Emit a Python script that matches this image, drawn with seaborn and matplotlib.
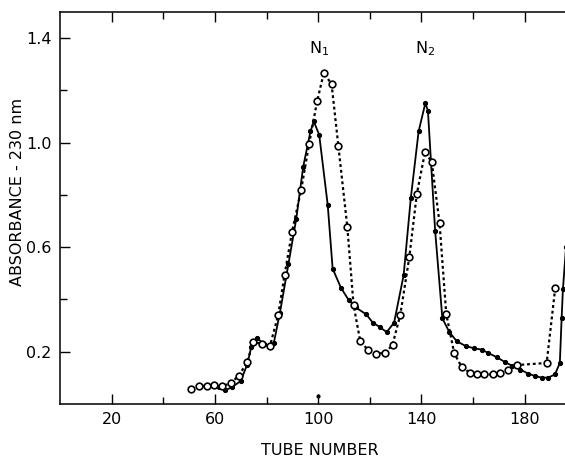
import numpy as np
import pandas as pd
import matplotlib
matplotlib.use("Agg")
import matplotlib.pyplot as plt
import seaborn as sns

# open circles, dotted line
tube_open = [50.6, 53.8, 56.8, 59.6, 62.9, 66.1, 69.3, 72.5, 74.8, 78.3, 81.3, 84.5,
             87.0, 89.9, 93.4, 96.5, 99.6, 102.2, 105.2, 107.8, 111.3, 113.7, 116.3,
             119.2, 122.4, 126.0, 128.8, 131.8, 135.3, 138.2, 141.4, 144.0, 147.0,
             149.6, 152.7, 155.6, 158.8, 161.4, 164.4, 167.6, 170.4, 173.6, 176.9,
             188.5, 191.8]
abs_open = [0.059, 0.069, 0.069, 0.071, 0.069, 0.079, 0.109, 0.160, 0.237, 0.230, 0.221, 0.340,
            0.495, 0.660, 0.819, 0.996, 1.159, 1.268, 1.223, 0.989, 0.676, 0.379, 0.240,
            0.208, 0.193, 0.195, 0.227, 0.341, 0.562, 0.803, 0.965, 0.925, 0.693,
            0.345, 0.194, 0.141, 0.120, 0.113, 0.113, 0.113, 0.118, 0.132, 0.149,
            0.157, 0.443]

# filled dots, solid line
tube_solid = [61.6, 63.9, 66.7, 70.0, 72.5, 74.1, 76.4, 78.9, 81.5, 82.8, 85.2,
              88.5, 91.5, 94.2, 97.0, 98.3, 100.4, 103.7, 105.6, 108.8, 111.8, 114.5,
              118.6, 121.2, 124.1, 126.5, 129.4, 133.1, 135.9, 138.9, 141.5, 142.5,
              145.3, 148.1, 150.8, 153.7, 157.1, 160.4, 163.4, 165.9, 169.2, 172.4,
              175.0, 178.2, 181.4, 184.0, 186.5, 189.1, 191.7, 193.6, 194.3, 194.8, 196.0]
abs_solid = [0.065, 0.052, 0.065, 0.088, 0.151, 0.219, 0.252, 0.230, 0.217, 0.233, 0.350,
             0.537, 0.708, 0.908, 1.043, 1.081, 1.030, 0.761, 0.518, 0.445, 0.398, 0.370,
             0.343, 0.311, 0.293, 0.275, 0.311, 0.493, 0.790, 1.043, 1.151, 1.123,
             0.663, 0.328, 0.275, 0.240, 0.222, 0.213, 0.208, 0.195, 0.179, 0.160,
             0.147, 0.132, 0.116, 0.107, 0.101, 0.101, 0.113, 0.157, 0.330, 0.440, 0.600]

peak_labels = ["N$_1$", "N$_2$"]
peak_x = [100.5, 141.4]
peak_y = [1.36, 1.36]

stray_x = [100.0]
stray_y = [0.03]

x_major = [20, 60, 100, 140, 180]
x_minor = [40, 80, 120, 160]
y_major = [0.2, 0.6, 1.0, 1.4]
y_minor = [0.4, 0.8, 1.2]

sns.set_style("ticks")
plt.rcParams['font.family'] = ['DejaVu Sans']
plt.rcParams['text.color'] = 'black'
plt.rcParams['axes.labelcolor'] = 'black'
plt.rcParams['xtick.color'] = 'black'
plt.rcParams['ytick.color'] = 'black'

fig = plt.figure(figsize=(5.65, 4.58), dpi=100)
ax = fig.add_axes([60 / 565, 54 / 458, 505 / 565, 392 / 458])

sns.lineplot(x=tube_solid, y=abs_solid, ax=ax, color="black", linewidth=1.3,
             marker="o", markersize=3.0, markerfacecolor="black",
             markeredgecolor="black", sort=False)
sns.lineplot(x=tube_open, y=abs_open, ax=ax, color="black", linewidth=1.6,
             linestyle=(0, (1.3, 1.3)), marker="o", markersize=4.8,
             markerfacecolor="white", markeredgecolor="black",
             markeredgewidth=1.2, sort=False)
ax.plot(stray_x, stray_y, "o", color="black", markersize=2)

for lab, xx, yy in zip(peak_labels, peak_x, peak_y):
    ax.text(xx, yy, lab, ha="center", va="center", fontsize=11.5)

ax.set_xlim(0, 195.6)
ax.set_ylim(0, 1.5)
ax.set_xticks(x_major)
ax.set_xticks(x_minor, minor=True)
ax.set_yticks(y_major)
ax.set_yticks(y_minor, minor=True)
ax.set_yticklabels(["0.2", "0.6", "1.0", "1.4"])
ax.tick_params(which="both", direction="in", top=True, right=False,
               labelsize=11.5, width=1, color="black", labelcolor="black")
ax.tick_params(which="major", length=7, pad=6)
ax.tick_params(which="minor", length=5)
ax.spines["right"].set_visible(False)
for s in ["left", "bottom", "top"]:
    ax.spines[s].set_linewidth(1.1)
    ax.spines[s].set_color("black")

ax.set_xlabel("TUBE NUMBER", fontsize=11.5)
ax.set_ylabel("ABSORBANCE - 230 nm", fontsize=11.5)
ax.xaxis.set_label_coords(0.515, -0.1)
ax.yaxis.set_label_coords(-0.07, 0.54)

fig.savefig("out.png", dpi=100)
